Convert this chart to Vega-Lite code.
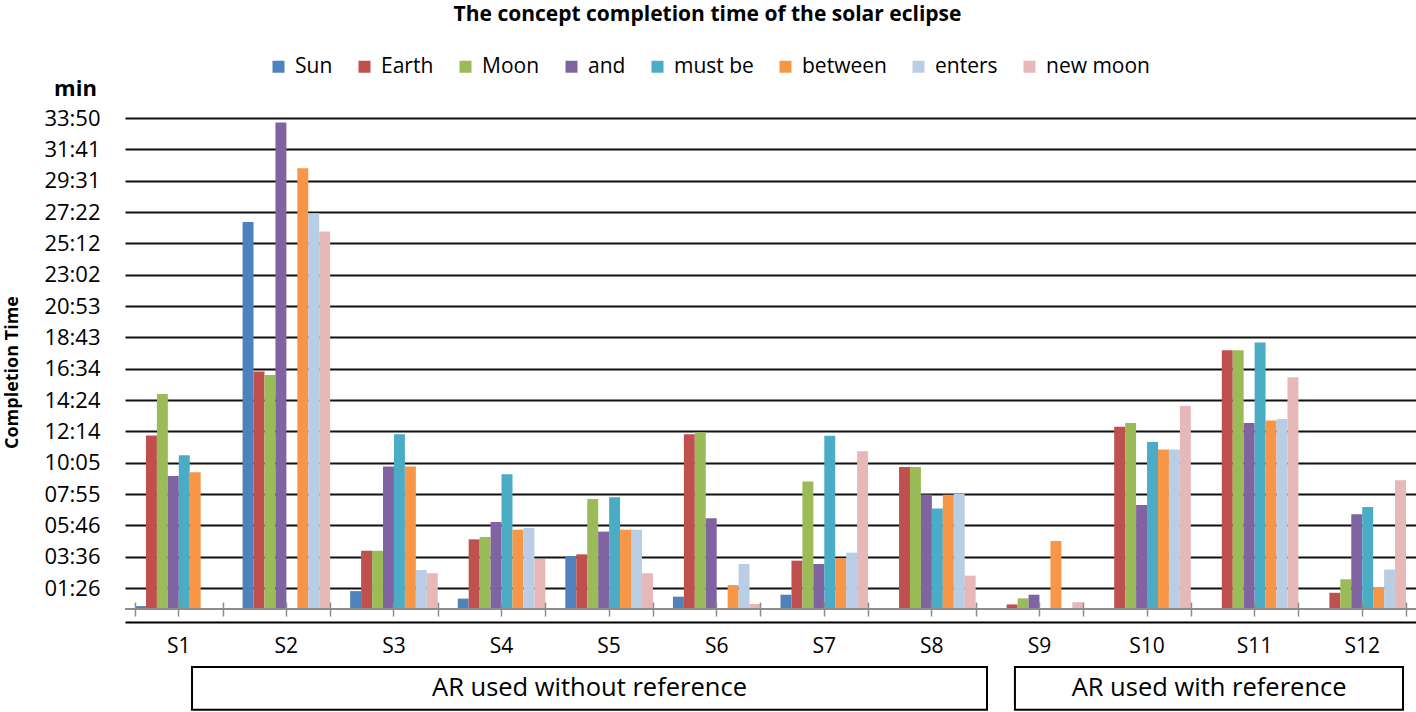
{
  "$schema": "https://vega.github.io/schema/vega-lite/v6.json",
  "width": 1291,
  "height": 491,
  "autosize": {"type": "none"},
  "padding": {"left": 125, "top": 118, "right": 0, "bottom": 103},
  "background": "white",
  "title": {
    "text": "The concept completion time of the solar eclipse",
    "frame": "group",
    "anchor": "middle",
    "dx": -63,
    "offset": 31,
    "fontSize": 21,
    "fontWeight": "bold",
    "font": "Open Sans",
    "color": "black"
  },
  "config": {
    "view": {"stroke": null},
    "font": "Open Sans",
    "text": {"font": "Open Sans"}
  },
  "data": {
    "values": [
      {"subject": "S1", "series": "Sun", "seconds": 12},
      {"subject": "S1", "series": "Earth", "seconds": 717},
      {"subject": "S1", "series": "Moon", "seconds": 889},
      {"subject": "S1", "series": "and", "seconds": 550},
      {"subject": "S1", "series": "must be", "seconds": 636},
      {"subject": "S1", "series": "between", "seconds": 565},
      {"subject": "S2", "series": "Sun", "seconds": 1600},
      {"subject": "S2", "series": "Earth", "seconds": 982},
      {"subject": "S2", "series": "Moon", "seconds": 968},
      {"subject": "S2", "series": "and", "seconds": 2012},
      {"subject": "S2", "series": "between", "seconds": 1823},
      {"subject": "S2", "series": "enters", "seconds": 1637},
      {"subject": "S2", "series": "new moon", "seconds": 1561},
      {"subject": "S3", "series": "Sun", "seconds": 74},
      {"subject": "S3", "series": "Earth", "seconds": 241},
      {"subject": "S3", "series": "Moon", "seconds": 241},
      {"subject": "S3", "series": "and", "seconds": 589},
      {"subject": "S3", "series": "must be", "seconds": 723},
      {"subject": "S3", "series": "between", "seconds": 589},
      {"subject": "S3", "series": "enters", "seconds": 161},
      {"subject": "S3", "series": "new moon", "seconds": 148},
      {"subject": "S4", "series": "Sun", "seconds": 43},
      {"subject": "S4", "series": "Earth", "seconds": 288},
      {"subject": "S4", "series": "Moon", "seconds": 298},
      {"subject": "S4", "series": "and", "seconds": 360},
      {"subject": "S4", "series": "must be", "seconds": 557},
      {"subject": "S4", "series": "between", "seconds": 328},
      {"subject": "S4", "series": "enters", "seconds": 335},
      {"subject": "S4", "series": "new moon", "seconds": 207},
      {"subject": "S5", "series": "Sun", "seconds": 218},
      {"subject": "S5", "series": "Earth", "seconds": 226},
      {"subject": "S5", "series": "Moon", "seconds": 455},
      {"subject": "S5", "series": "and", "seconds": 320},
      {"subject": "S5", "series": "must be", "seconds": 462},
      {"subject": "S5", "series": "between", "seconds": 328},
      {"subject": "S5", "series": "enters", "seconds": 328},
      {"subject": "S5", "series": "new moon", "seconds": 148},
      {"subject": "S6", "series": "Sun", "seconds": 51},
      {"subject": "S6", "series": "Earth", "seconds": 723},
      {"subject": "S6", "series": "Moon", "seconds": 731},
      {"subject": "S6", "series": "and", "seconds": 375},
      {"subject": "S6", "series": "between", "seconds": 99},
      {"subject": "S6", "series": "enters", "seconds": 186},
      {"subject": "S6", "series": "new moon", "seconds": 21},
      {"subject": "S7", "series": "Sun", "seconds": 59},
      {"subject": "S7", "series": "Earth", "seconds": 200},
      {"subject": "S7", "series": "Moon", "seconds": 527},
      {"subject": "S7", "series": "and", "seconds": 186},
      {"subject": "S7", "series": "must be", "seconds": 716},
      {"subject": "S7", "series": "between", "seconds": 210},
      {"subject": "S7", "series": "enters", "seconds": 233},
      {"subject": "S7", "series": "new moon", "seconds": 652},
      {"subject": "S8", "series": "Earth", "seconds": 587},
      {"subject": "S8", "series": "Moon", "seconds": 587},
      {"subject": "S8", "series": "and", "seconds": 473},
      {"subject": "S8", "series": "must be", "seconds": 416},
      {"subject": "S8", "series": "between", "seconds": 472},
      {"subject": "S8", "series": "enters", "seconds": 477},
      {"subject": "S8", "series": "new moon", "seconds": 138},
      {"subject": "S9", "series": "Earth", "seconds": 19},
      {"subject": "S9", "series": "Moon", "seconds": 44},
      {"subject": "S9", "series": "and", "seconds": 59},
      {"subject": "S9", "series": "between", "seconds": 281},
      {"subject": "S9", "series": "new moon", "seconds": 28},
      {"subject": "S10", "series": "Earth", "seconds": 754},
      {"subject": "S10", "series": "Moon", "seconds": 769},
      {"subject": "S10", "series": "and", "seconds": 430},
      {"subject": "S10", "series": "must be", "seconds": 691},
      {"subject": "S10", "series": "between", "seconds": 660},
      {"subject": "S10", "series": "enters", "seconds": 660},
      {"subject": "S10", "series": "new moon", "seconds": 841},
      {"subject": "S11", "series": "Earth", "seconds": 1070},
      {"subject": "S11", "series": "Moon", "seconds": 1070},
      {"subject": "S11", "series": "and", "seconds": 769},
      {"subject": "S11", "series": "must be", "seconds": 1102},
      {"subject": "S11", "series": "between", "seconds": 779},
      {"subject": "S11", "series": "enters", "seconds": 786},
      {"subject": "S11", "series": "new moon", "seconds": 958},
      {"subject": "S12", "series": "Earth", "seconds": 67},
      {"subject": "S12", "series": "Moon", "seconds": 123},
      {"subject": "S12", "series": "and", "seconds": 392},
      {"subject": "S12", "series": "must be", "seconds": 422},
      {"subject": "S12", "series": "between", "seconds": 91},
      {"subject": "S12", "series": "enters", "seconds": 163},
      {"subject": "S12", "series": "new moon", "seconds": 532}
    ]
  },
  "resolve": {"axis": {"x": "independent", "y": "independent"}},
  "layer": [
    {
      "mark": {"type": "bar"},
      "encoding": {
        "x": {
          "field": "subject",
          "type": "nominal",
          "scale": {"domain": ["S1","S2","S3","S4","S5","S6","S7","S8","S9","S10","S11","S12"], "paddingInner": 0.186, "paddingOuter": 0.093},
          "axis": {"orient": "bottom", "offset": 13, "domain": true, "domainColor": "black", "domainWidth": 2, "ticks": false, "labelPadding": 13, "labelFontSize": 21, "labelColor": "black", "labelAngle": 0, "title": null, "grid": false}
        },
        "xOffset": {
          "field": "series",
          "type": "nominal",
          "scale": {"domain": ["Sun","Earth","Moon","and","must be","between","enters","new moon"], "paddingInner": 0, "paddingOuter": 0}
        },
        "y": {
          "field": "seconds",
          "type": "quantitative",
          "scale": {"domain": [0, 2030.4], "nice": false, "zero": true},
          "axis": {
            "orient": "left",
            "values": [86.4,216,345.6,475.2,604.8,734.4,864,993.6,1123.2,1252.8,1382.4,1512,1641.6,1771.2,1900.8,2030.4],
            "labelExpr": "format(floor(round(datum.value)/60), '02d') + ':' + format(round(datum.value) % 60, '02d')",
            "grid": true, "gridColor": "#111111", "gridWidth": 2,
            "domain": false, "ticks": false,
            "labelPadding": 25, "labelFontSize": 22, "labelColor": "black",
            "title": "Completion Time", "titleFontSize": 18, "titleFontWeight": "bold", "titleColor": "black",
            "titleAngle": -90, "titleX": -113, "titleY": 254, "titleAlign": "center", "titleBaseline": "middle"
          }
        },
        "color": {
          "field": "series",
          "type": "nominal",
          "scale": {
            "domain": ["Sun","Earth","Moon","and","must be","between","enters","new moon"],
            "range": ["#4F81BD","#C0504D","#9BBB59","#8064A2","#4BACC6","#F79646","#B9CDE5","#E6B9B8"]
          },
          "legend": {
            "orient": "none", "legendX": 143, "legendY": -62, "direction": "horizontal",
            "title": null, "labelFontSize": 21, "labelColor": "black", "labelOffset": 6,
            "symbolType": "square", "symbolSize": 144, "symbolStrokeWidth": 0, "columnPadding": 21
          }
        }
      }
    },
    {
      "mark": {"type": "rule", "color": "#8c8c8c", "strokeWidth": 2},
      "encoding": {
        "y": {
          "datum": 0,
          "type": "quantitative",
          "scale": {"domain": [0, 2030.4], "nice": false},
          "axis": {"orient": "left", "title": "min", "labels": false, "ticks": false, "domain": false, "grid": false,
                   "titleAngle": 0, "titleX": -50, "titleY": -30, "titleAlign": "center", "titleBaseline": "middle",
                   "titleFontSize": 22, "titleFontWeight": "bold", "titleColor": "black"}
        }
      }
    },
    {
      "data": {"values": [{"group": "AR used without reference"}]},
      "mark": {"type": "rect", "fill": "white", "stroke": "black", "strokeWidth": 2},
      "encoding": {
        "x": {"datum": "S1", "bandPosition": 0.651,
              "axis": {"orient": "bottom", "offset": -7, "domain": false, "ticks": true, "tickBand": "extent", "tickSize": 14, "tickColor": "#8c8c8c", "tickWidth": 1.5, "labels": false, "title": null, "grid": false}},
        "x2": {"datum": "S9", "bandPosition": -0.099},
        "y": {"datum": -240, "type": "quantitative", "axis": null},
        "y2": {"datum": -417}
      }
    },
    {
      "data": {"values": [{"group": "AR used with reference"}]},
      "mark": {"type": "rect", "fill": "white", "stroke": "black", "strokeWidth": 2},
      "encoding": {
        "x": {"datum": "S9", "bandPosition": 0.22,
              "axis": {"orient": "bottom", "offset": -7, "domain": false, "ticks": true, "tickSize": 14, "tickColor": "#8c8c8c", "tickWidth": 1.5, "labels": false, "title": null, "grid": false}},
        "x2": {"datum": "S12", "bandPosition": 0.966},
        "y": {"datum": -240, "type": "quantitative", "axis": null},
        "y2": {"datum": -417}
      }
    },
    {
      "data": {"values": [{"group": "AR used without reference"}]},
      "mark": {"type": "text", "fontSize": 25.5, "color": "black", "baseline": "middle", "align": "center"},
      "encoding": {
        "x": {"datum": "S5", "bandPosition": 0.276, "axis": null},
        "y": {"datum": -327, "type": "quantitative", "axis": null},
        "text": {"field": "group"}
      }
    },
    {
      "data": {"values": [{"group": "AR used with reference"}]},
      "mark": {"type": "text", "fontSize": 25.5, "color": "black", "baseline": "middle", "align": "center"},
      "encoding": {
        "x": {"datum": "S11", "bandPosition": -0.02, "axis": null},
        "y": {"datum": -327, "type": "quantitative", "axis": null},
        "text": {"field": "group"}
      }
    }
  ]
}
